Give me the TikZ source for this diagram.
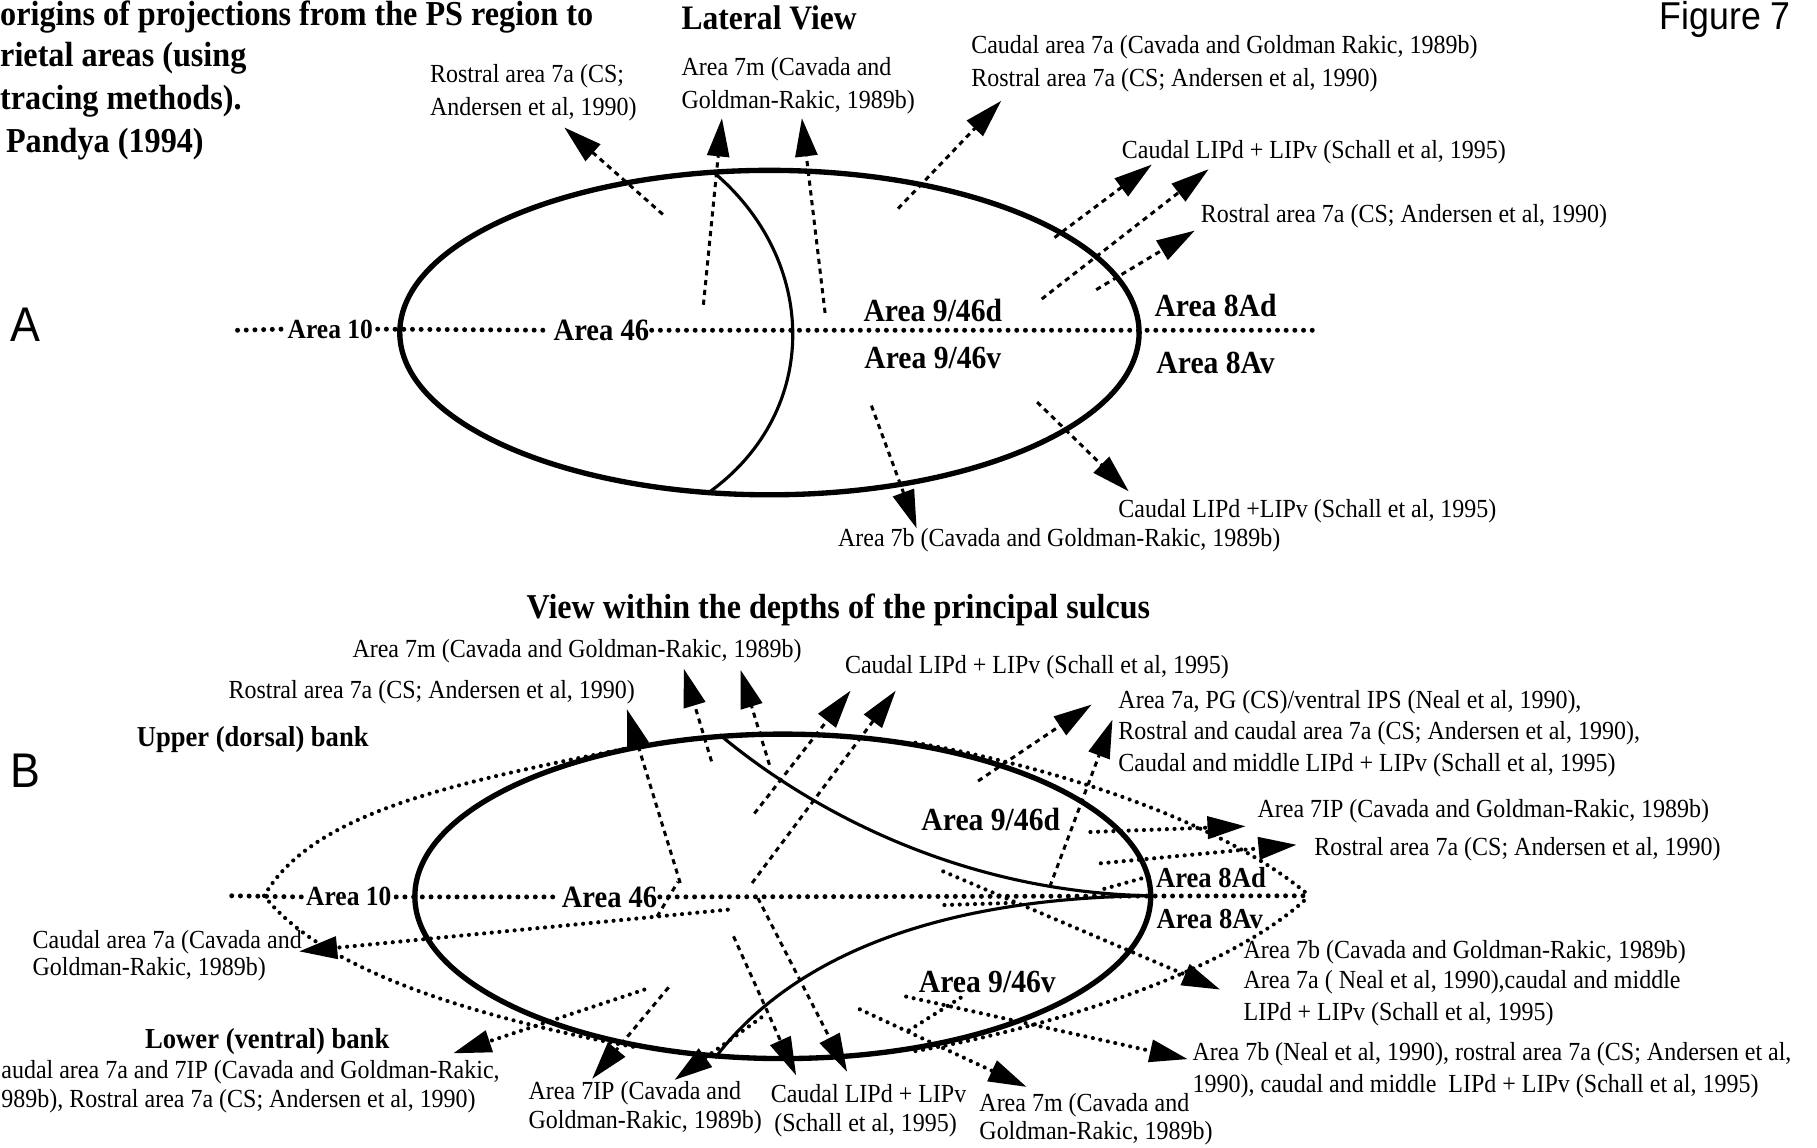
\documentclass[tikz,border=0pt]{standalone}
\usepackage{fontspec}
\setmainfont{Liberation Serif}[FakeStretch=0.92]
\newfontfamily\panelfont{Liberation Sans}[FakeStretch=0.92]
\usetikzlibrary{arrows.meta}
\tikzset{
  note/.style={font=\fontsize{22.5}{27}\selectfont, inner sep=0pt, anchor=west},
  heading/.style={font=\bfseries\fontsize{#1}{#1}\selectfont, inner sep=0pt},
  region/.style={font=\bfseries\fontsize{#1}{#1}\selectfont, inner sep=0pt},
  letter/.style={font=\panelfont\fontsize{#1}{#1}\selectfont, inner sep=0pt},
  rim/.style={line width=4.6pt},
  sulcus/.style={line width=2.7pt},
  midline/.style={line width=4.3pt, line cap=round, dash pattern=on 0pt off 7.5pt},
  lens/.style={line width=3.6pt, line cap=round, dash pattern=on 0pt off 6.6pt},
  head/.style={-{Triangle[length=33pt,width=19pt]}},
  proj/.style={line width=2.6pt, dash pattern=on 4.5pt off 4pt, head},
  projdot/.style={line width=3.6pt, line cap=round, dash pattern=on 0pt off 6.6pt, head},
}
\begin{document}
\begin{tikzpicture}[x=1pt, y=-1pt]
\useasboundingbox (0,0) rectangle (1568,990);
\fill[white] (0,0) rectangle (1568,990);

% ---------- headings ----------
\node[heading=30.2, anchor=west] (ttl1) at (0,15) {origins of projections from the PS region to};
\node[heading=30.2, anchor=west] (ttl2) at (0,50) {rietal areas (using};
\node[heading=30.2, anchor=west] (ttl3) at (0,87) {tracing methods).};
\node[heading=30.2, anchor=west] (ttl4) at (5,124) {Pandya (1994)};
\node[heading=29.6, anchor=west] (lat) at (588,15) {Lateral View};
\node[letter=33.5, anchor=west] (fig) at (1432,17) {Figure 7};
\node[letter=42] (pa) at (22,280) {A};
\node[letter=42] (pb) at (22,665) {B};

% ================= Panel A: lateral view =================
\coordinate (Ac) at (664,287);
\node[region=23.9, inner xsep=4pt] (A10) at (285,284) {Area 10};
\node[region=26.8, inner xsep=2pt] (A46) at (519,285) {Area 46};
\node[region=27.8] (A9d) at (805,268) {Area 9/46d};
\node[region=27.8] (A9v) at (805,309) {Area 9/46v};
\node[region=27.8] (A8d) at (1049,264) {Area 8Ad};
\node[region=27.8] (A8v) at (1049,313) {Area 8Av};
\coordinate (Am0) at (205,285);
\coordinate (Am1) at (1134,285);
\draw[midline] (Am0) -- (A10.west) (A10.east) -- (A46.west) (A46.east) -- (Am1);

% projection arrows, panel A
\coordinate (pa1s) at (572,185); \coordinate (pa1e) at (487,110);
\coordinate (pa2s) at (607,263); \coordinate (pa2e) at (623,102);
\coordinate (pa3s) at (712,270); \coordinate (pa3e) at (692,102);
\coordinate (pa4s) at (775,180); \coordinate (pa4e) at (864,87);
\coordinate (pa5s) at (910,205); \coordinate (pa5e) at (994,142);
\coordinate (pa6s) at (899,258); \coordinate (pa6e) at (1043,146);
\coordinate (pa7s) at (946,250); \coordinate (pa7e) at (1031,199);
\coordinate (pa8s) at (752,350); \coordinate (pa8e) at (791,456);
\coordinate (pa9s) at (895,347); \coordinate (pa9e) at (974,424);
\foreach \i in {1,...,9} \draw[proj] (pa\i s) -- (pa\i e);

% cortex outline and sulcal lip
\draw[rim] (Ac) ellipse [x radius=319pt, y radius=140pt];
\draw[sulcus] (615,148) .. controls (706,224) and (709,354) .. (613,424);

% labels, panel A
\node[note] (na1) at (371,66) {Rostral area 7a (CS;};
\node[note] (na2) at (371,94) {Andersen et al, 1990)};
\node[note] (na3) at (588,60) {Area 7m (Cavada and};
\node[note] (na4) at (588,88) {Goldman-Rakic, 1989b)};
\node[note] (na5) at (838,41) {Caudal area 7a (Cavada and Goldman Rakic, 1989b)};
\node[note] (na6) at (838,69) {Rostral area 7a (CS; Andersen et al, 1990)};
\node[note] (na7) at (968,131) {Caudal LIPd + LIPv (Schall et al, 1995)};
\node[note] (na8) at (1036,187) {Rostral area 7a (CS; Andersen et al, 1990)};
\node[note] (na9) at (965,441) {Caudal LIPd +LIPv (Schall et al, 1995)};
\node[note] (na10) at (723,466) {Area 7b (Cavada and Goldman-Rakic, 1989b)};

% ================= Panel B: depths of the sulcus =================
\node[heading=30.1] (vw) at (723.5,526) {View within the depths of the principal sulcus};
\node[heading=24.9, anchor=west] (upb) at (118,638) {Upper (dorsal) bank};
\node[heading=25, anchor=west] (lob) at (125,899) {Lower (ventral) bank};

\coordinate (Bc) at (675.5,773.5);
\node[region=23.9, inner xsep=4pt] (B10) at (301,774) {Area 10};
\node[region=26.8, inner xsep=2pt] (B46) at (526,774) {Area 46};
\coordinate (Bm0) at (200,773);
\coordinate (Bm1) at (1128,773);
\draw[midline] (Bm0) -- (B10.west) (B10.east) -- (B46.west) (B46.east) -- (Bm1);

% dotted lens of the two banks
\draw[lens] (228,773) .. controls (270,700) and (395,675) .. (545,645);
\draw[lens] (790,641) .. controls (900,660) and (1050,705) .. (1130,773);
\draw[lens] (228,773) .. controls (280,840) and (420,880) .. (550,904);
\draw[lens] (790,907) .. controls (900,888) and (1060,840) .. (1130,773);

% short dotted marks
\draw[lens] (815,781) -- (878,779);
\draw[lens] (953,767) -- (996,755);
\draw[lens] (829,861) -- (783,890);
\draw[line width=2.6pt, dash pattern=on 4.5pt off 4pt] (567,791) -- (585,761);

% projection arrows, panel B
\coordinate (pb1s) at (587,762); \coordinate (pb1e) at (541,612);
\coordinate (pb2s) at (614,657); \coordinate (pb2e) at (590,577);
\coordinate (pb3s) at (664,660); \coordinate (pb3e) at (639,578);
\coordinate (pb4s) at (651,702); \coordinate (pb4e) at (734,596);
\coordinate (pb5s) at (649,762); \coordinate (pb5e) at (773,596);
\coordinate (pb6s) at (844,674); \coordinate (pb6e) at (942,608);
\coordinate (pb7s) at (906,765); \coordinate (pb7e) at (960,621);
\coordinate (pb8s) at (633,808); \coordinate (pb8e) at (687,928);
\coordinate (pb9s) at (654,775); \coordinate (pb9e) at (731,925);
\coordinate (pb10s) at (577,852); \coordinate (pb10e) at (511,931);
\foreach \i in {1,...,10} \draw[proj] (pb\i s) -- (pb\i e);

\coordinate (qb1s) at (941,718); \coordinate (qb1e) at (1075,713);
\coordinate (qb2s) at (950,745); \coordinate (qb2e) at (1119,729);
\coordinate (qb3s) at (814,752); \coordinate (qb3e) at (1053,854);
\coordinate (qb4s) at (782,860); \coordinate (qb4e) at (1025,914);
\coordinate (qb5s) at (742,871); \coordinate (qb5e) at (886,938);
\coordinate (qb6s) at (657,878); \coordinate (qb6e) at (582,932);
\coordinate (qb7s) at (556,854); \coordinate (qb7e) at (391,909);
\coordinate (qb8s) at (628,785); \coordinate (qb8e) at (258,821);
\foreach \i in {1,...,8} \draw[projdot] (qb\i s) -- (qb\i e);

% cortex outline and the two sulcal lips
\draw[rim] (Bc) ellipse [x radius=317.5pt, y radius=140pt];
\draw[sulcus] (621,634) .. controls (700,700) and (830,770) .. (993,773);
\draw[sulcus] (617,913) .. controls (680,830) and (800,775) .. (993,773);

\node[region=27.8] (B9d) at (855,707) {Area 9/46d};
\node[region=27.8] (B9v) at (852,847) {Area 9/46v};
\node[region=25] (B8d) at (1045,757) {Area 8Ad};
\node[region=25] (B8v) at (1044,793) {Area 8Av};

% labels, panel B
\node[note] (nb1) at (304,562) {Area 7m (Cavada and Goldman-Rakic, 1989b)};
\node[note] (nb2) at (197,597) {Rostral area 7a (CS; Andersen et al, 1990)};
\node[note] (nb3) at (729,576) {Caudal LIPd + LIPv (Schall et al, 1995)};
\node[note] (nb4) at (965,606) {Area 7a, PG (CS)/ventral IPS (Neal et al, 1990),};
\node[note] (nb5) at (965,633) {Rostral and caudal area 7a (CS; Andersen et al, 1990),};
\node[note] (nb6) at (965,660) {Caudal and middle LIPd + LIPv (Schall et al, 1995)};
\node[note] (nb7) at (1085,700) {Area 7IP (Cavada and Goldman-Rakic, 1989b)};
\node[note] (nb8) at (1134,733) {Rostral area 7a (CS; Andersen et al, 1990)};
\node[note] (nb9) at (28,813) {Caudal area 7a (Cavada and};
\node[note] (nb10) at (28,836) {Goldman-Rakic, 1989b)};
\node[note] (nb11) at (1073,822) {Area 7b (Cavada and Goldman-Rakic, 1989b)};
\node[note] (nb12) at (1073,848) {Area 7a ( Neal et al, 1990),caudal and middle};
\node[note] (nb13) at (1073,875) {LIPd + LIPv (Schall et al, 1995)};
\node[note] (nb14) at (1029,910) {Area 7b (Neal et al, 1990), rostral area 7a (CS; Andersen et al,};
\node[note] (nb15) at (1029,937) {1990), caudal and middle\ \ LIPd + LIPv (Schall et al, 1995)};
\node[note] (nb16) at (1,925) {audal area 7a and 7IP (Cavada and Goldman-Rakic,};
\node[note] (nb17) at (1,950) {989b), Rostral area 7a (CS; Andersen et al, 1990)};
\node[note] (nb18) at (456,943) {Area 7IP (Cavada and};
\node[note] (nb19) at (456,968) {Goldman-Rakic, 1989b)};
\node[note] (nb20) at (665,944) {Caudal LIPd + LIPv};
\node[note] (nb21) at (668,971) {(Schall et al, 1995)};
\node[note] (nb22) at (845,954) {Area 7m (Cavada and};
\node[note] (nb23) at (845,978) {Goldman-Rakic, 1989b)};
\end{tikzpicture}
\end{document}
